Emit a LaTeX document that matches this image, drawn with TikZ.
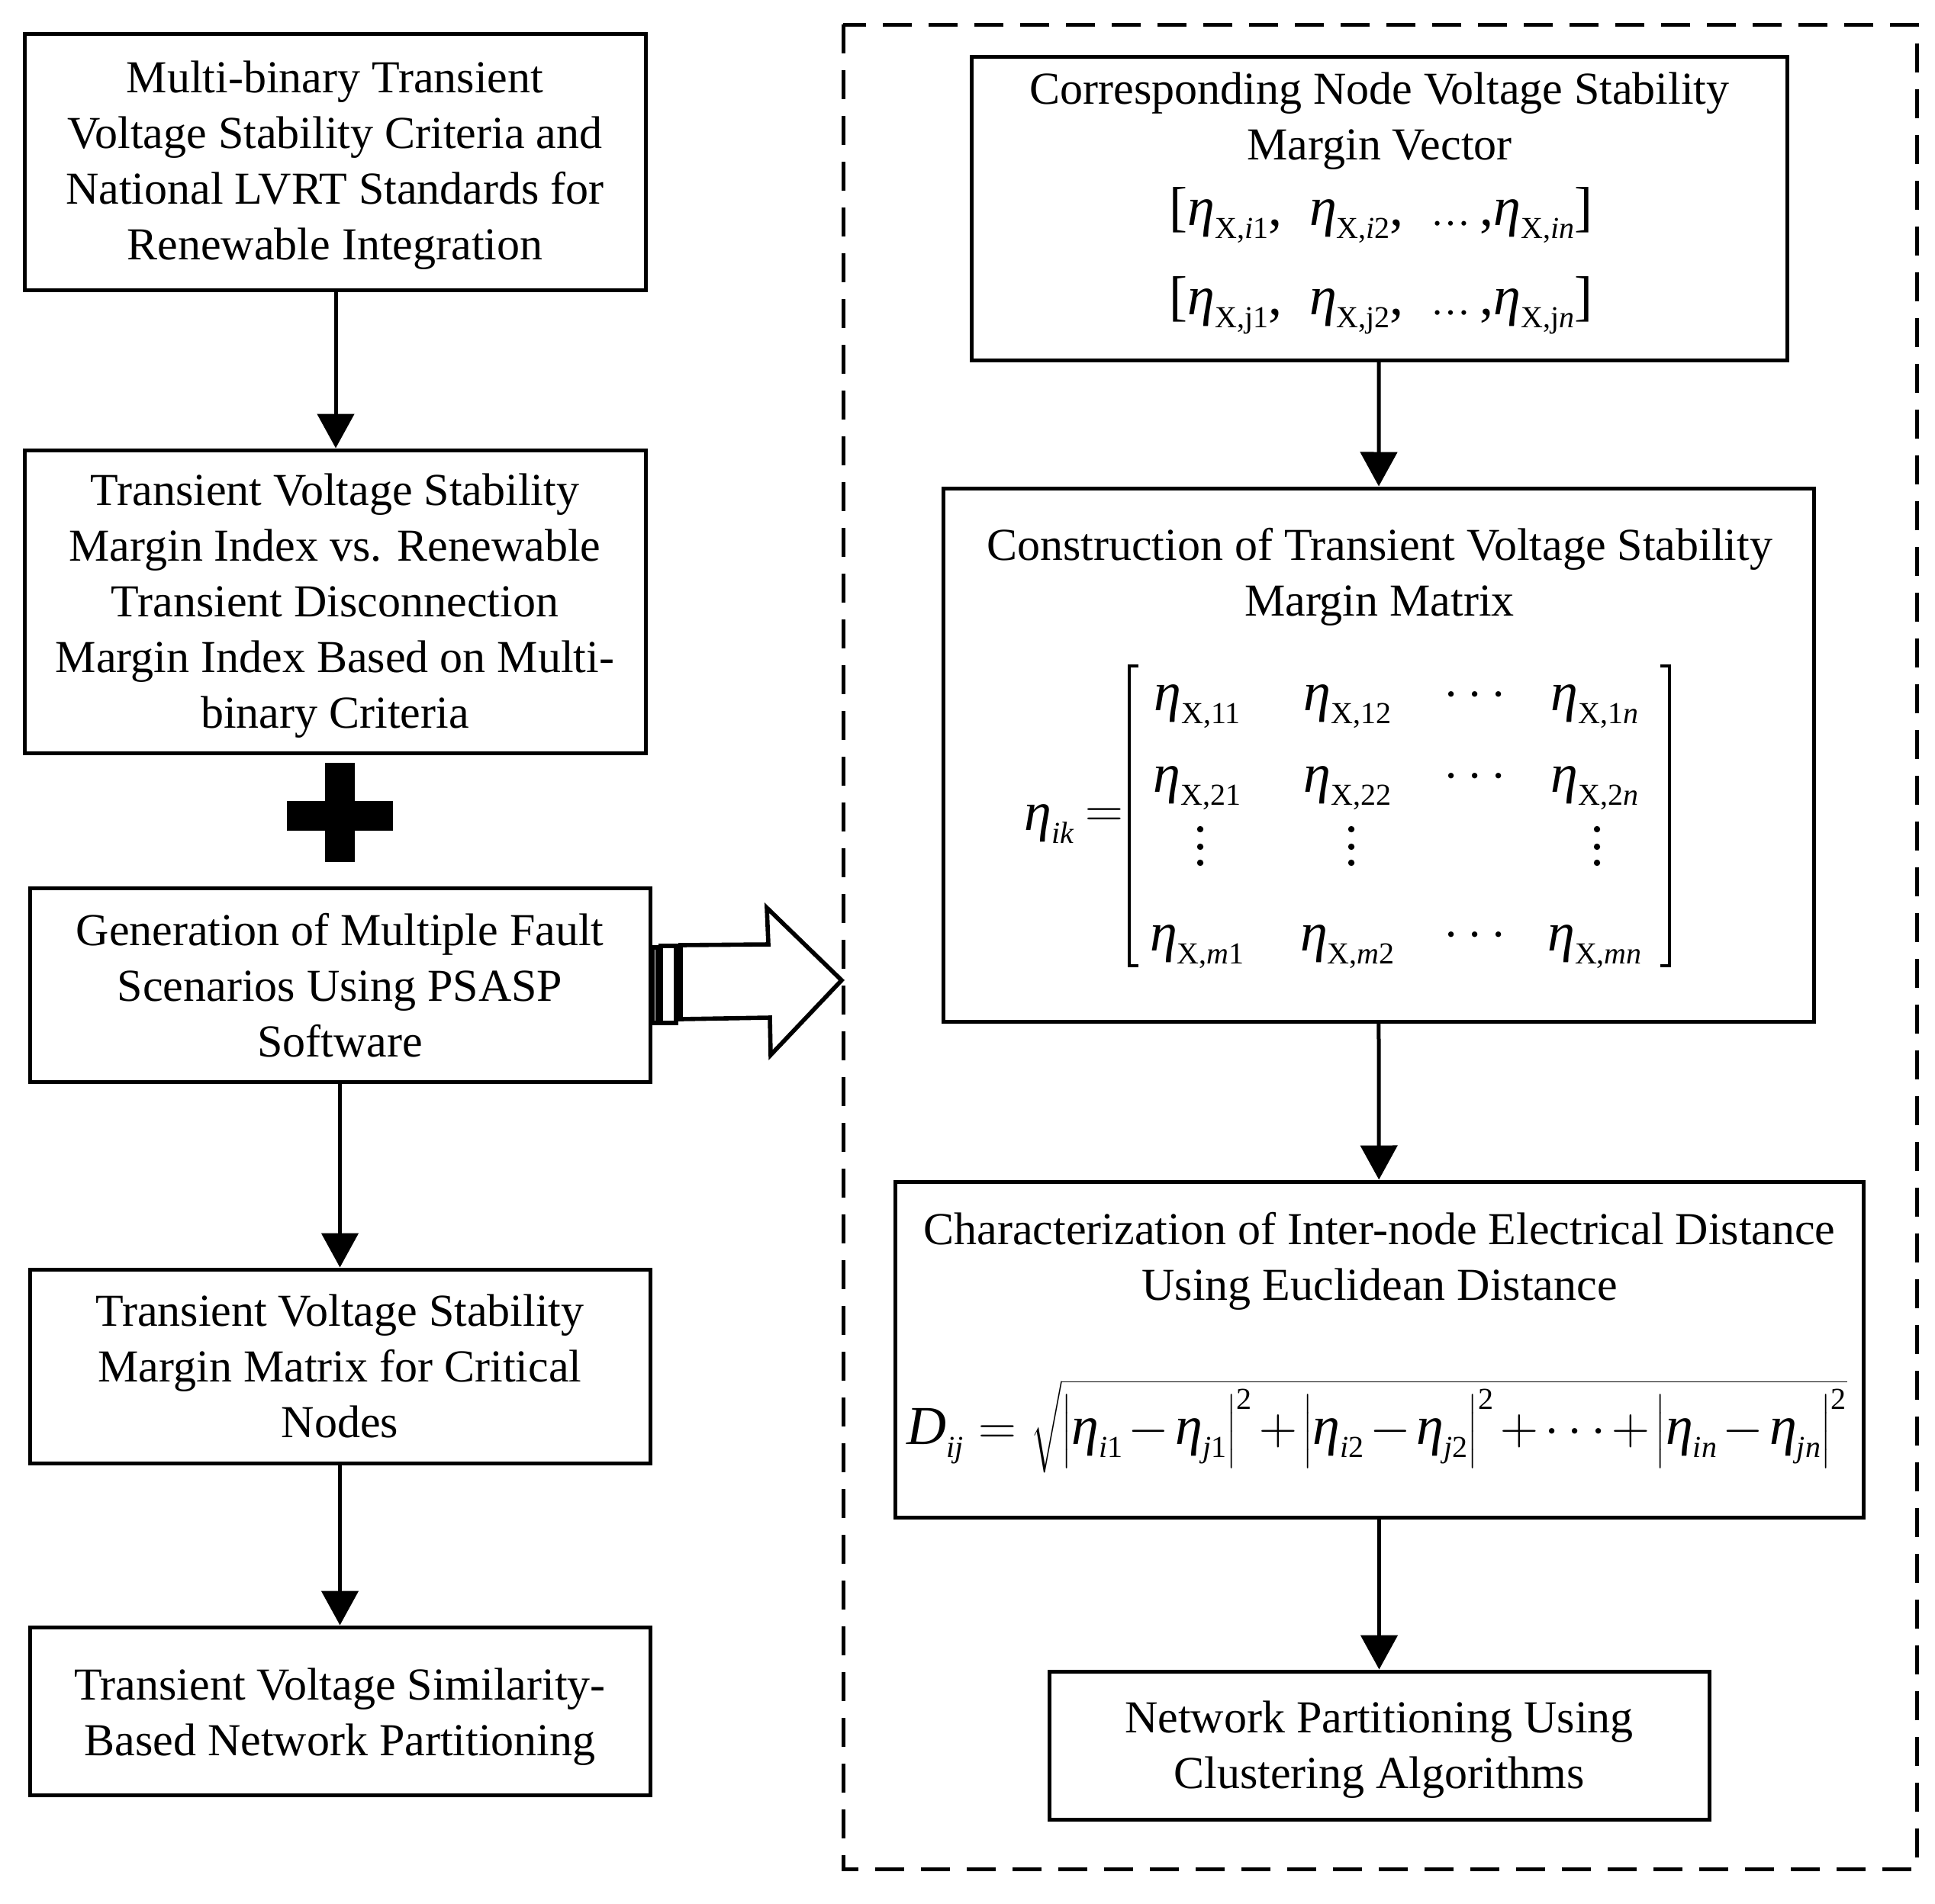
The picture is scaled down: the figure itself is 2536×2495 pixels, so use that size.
\documentclass[tikz,border=0pt]{standalone}
\usepackage{fontspec}
\setmainfont{Liberation Serif}
\usetikzlibrary{arrows.meta}
\newcommand\txtfont{\fontsize{15}{18.25}\selectfont}
\newcommand\mthfont{\fontsize{18}{20}\selectfont}
\newcommand\etaA{{\fontsize{18}{18}\selectfont\itshape η}}
\newcommand\sbs[1]{\raisebox{-4.25pt}{\fontsize{10}{10}\selectfont #1}}
\newcommand\spz[1]{\mbox{\fontsize{10}{10}\selectfont #1}}
\newcommand\et[1]{\mbox{\etaA\sbs{#1}}}
\begin{document}
\begin{tikzpicture}[x=0.25pt,y=-0.25pt,
  box/.style={draw, line width=1.25pt, inner sep=0pt},
  conn/.style={line width=1.25pt, -{Triangle[length=11.25pt,width=12pt]}},
  lbl/.style={inner sep=0pt, align=center, font=\txtfont},
  mth/.style={inner sep=0pt, font=\mthfont}]
\useasboundingbox (0,0) rectangle (2536,2495);
% dashed frame
\draw[line width=1.25pt, dash pattern=on 9.6pt off 5.4pt] (1105,32) rectangle (2512,2450);
% left column
\node[box, minimum width=203.5pt, minimum height=84pt] (b1) at (439,212) {};
\node[lbl, yshift=-1.25pt] (b1t) at (b1) {Multi-binary Transient\\Voltage Stability Criteria and\\National LVRT Standards for\\Renewable Integration};
\node[box, minimum width=203.5pt, minimum height=99.25pt] (b2) at (439,788.5) {};
\node[lbl, yshift=-1.5pt] (b2t) at (b2) {Transient Voltage Stability\\Margin Index vs. Renewable\\Transient Disconnection\\Margin Index Based on Multi-\\binary Criteria};
\node[box, minimum width=203.25pt, minimum height=63.5pt] (b3) at (445.5,1291) {};
\node[lbl, yshift=-0.25pt] (b3t) at (b3) {Generation of Multiple Fault\\Scenarios Using PSASP\\Software};
\node[box, minimum width=203.25pt, minimum height=63.5pt] (b4) at (445.5,1791) {};
\node[lbl] (b4t) at (b4) {Transient Voltage Stability\\Margin Matrix for Critical\\Nodes};
\node[box, minimum width=203.25pt, minimum height=55pt] (b5) at (445.5,2243) {};
\node[lbl, yshift=-2pt] (b5t) at (b5) {Transient Voltage Similarity-\\Based Network Partitioning};
\draw[conn] (b1.south -| 440,0) -- (b2.north -| 440,0);
\draw[conn] (b3) -- (b4);
\draw[conn] (b4) -- (b5);
% plus sign
\fill (376,1050) rectangle (515,1089);
\fill (426,1000) rectangle (465,1130);
% big hollow arrow
\draw[line width=1.4pt, line join=miter] (855,1242) rectangle (862,1341);
\draw[line width=1.4pt, line join=miter] (866,1240) rectangle (886,1341);
\draw[line width=1.4pt, line join=miter] (892,1239) -- (1007,1238) -- (1005,1190) -- (1103,1285)
  -- (1010,1383) -- (1009,1334) -- (892,1336) -- cycle;
% right column
\node[box, minimum width=267.25pt, minimum height=99.5pt] (r1) at (1807.5,273) {};
\node[lbl] (r1t) at (1808,159) {Corresponding Node Voltage Stability\\Margin Vector};
\node[mth] (v1) at (1810,282) {[\et{X,\textit{i}1}, \ \et{X,\textit{i}2}, \ {\fontsize{13}{13}\selectfont…}\,,\et{X,\textit{in}}]};
\node[mth] (v2) at (1810,400) {[\et{X,j1}, \ \et{X,j2}, \ {\fontsize{13}{13}\selectfont…}\,,\et{X,j\textit{n}}]};

\node[box, minimum width=285.25pt, minimum height=174.75pt] (r2) at (1806.5,989.5) {};
\node[lbl] (r2t) at (1808,756) {Construction of Transient Voltage Stability\\Margin Matrix};
\node[mth] (eik) at (1375,1080) {\et{\textit{ik}}};
\node[mth] (eq) at (1447,1072) {$=$};
\draw[line width=0.8pt] (1492,873) -- (1480,873) -- (1480,1266) -- (1492,1266);
\draw[line width=0.8pt] (2176,873) -- (2188,873) -- (2188,1266) -- (2176,1266);
\node[mth] (m11) at (1569,926) {\et{X,11}};
\node[mth] (m12) at (1766,926) {\et{X,12}};
\node[mth] (m13) at (1933,912) {$\cdots$};
\node[mth] (m14) at (2090,926) {\et{X,1\textit{n}}};
\node[mth] (m21) at (1569,1033) {\et{X,21}};
\node[mth] (m22) at (1766,1033) {\et{X,22}};
\node[mth] (m23) at (1933,1019) {$\cdots$};
\node[mth] (m24) at (2090,1033) {\et{X,2\textit{n}}};
\foreach \cx in {1573,1771,2093}
  \foreach \cy in {1087,1110,1131}
    \fill (\cx,\cy) circle[radius=1.05pt];
\node[mth] (m41) at (1569,1241) {\et{X,\textit{m}1}};
\node[mth] (m42) at (1766,1241) {\et{X,\textit{m}2}};
\node[mth] (m43) at (1933,1227) {$\cdots$};
\node[mth] (m44) at (2090,1241) {\et{X,\textit{mn}}};

\node[box, minimum width=317.25pt, minimum height=110pt] (r3) at (1807.5,1769) {};
\node[lbl] (r3t) at (1808,1653) {Characterization of Inter-node Electrical Distance\\Using Euclidean Distance};
\node[mth] (dij) at (1805,1870) {\medmuskip=2mu $\mbox{\itshape D\sbs{ij}} = \sqrt{\left|\et{\textit{i}1} - \et{\textit{j}1}\right|^{\spz{2}} + \left|\et{\textit{i}2} - \et{\textit{j}2}\right|^{\spz{2}} + \cdots + \left|\et{\textit{in}} - \et{\textit{jn}}\right|^{\spz{2}}}$};

\node[box, minimum width=216.25pt, minimum height=48.5pt] (r4) at (1807.5,2288) {};
\node[lbl, yshift=-1.5pt] (r4t) at (r4) {Network Partitioning Using\\Clustering Algorithms};
\draw[conn] (r1) -- (r2);
\draw[conn] (r2) -- (r3);
\draw[conn] (r3) -- (r4);
\end{tikzpicture}
\end{document}
